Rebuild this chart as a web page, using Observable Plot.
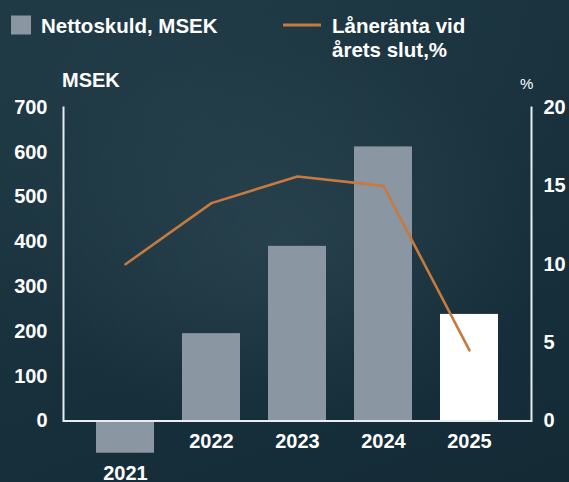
<!DOCTYPE html>
<html><head><meta charset="utf-8">
<script src="https://cdn.jsdelivr.net/npm/d3@7"></script>
<script src="https://cdn.jsdelivr.net/npm/@observablehq/plot@0.6"></script>
<style>
html,body{margin:0;padding:0;}
body{width:569px;height:482px;overflow:hidden;background:#172f3b;}
#chart{width:569px;height:482px;
 background:
  radial-gradient(ellipse 45% 40% at 50% 50%, rgba(52,78,90,0.45) 0%, rgba(52,78,90,0) 100%),
  radial-gradient(ellipse 70% 60% at 30% 20%, rgba(40,66,78,0.5) 0%, rgba(40,66,78,0) 100%),
  linear-gradient(160deg, #1c3642 0%, #18313d 50%, #142b36 100%);}
svg text{font-family:"Liberation Sans", Arial, Helvetica, sans-serif;}
</style></head><body><div id="chart"></div>
<script>
const years = ["2021", "2022", "2023", "2024", "2025"];
const nettoskuld = [-72, 195, 390, 612, 238];
const laneranta = [10.0, 13.9, 15.6, 15.0, 4.5];
const leftTicks = [0, 100, 200, 300, 400, 500, 600, 700];
const rightTicks = [0, 5, 10, 15, 20];
const legendBar = "Nettoskuld, MSEK";
const legendLine = ["Låneränta vid", "årets slut,%"];
const leftUnit = "MSEK";
const rightUnit = "%";

const ratio = 700 / 20;
const data = years.map((y, i) => ({year: y, debt: nettoskuld[i], rate: laneranta[i]}));

const gray = "#8b96a3";
const orange = "#c67a3f";
const font = 20;

const plot = Plot.plot({
  width: 569,
  height: 482,
  marginLeft: 63,
  marginRight: 38,
  marginTop: 107,
  marginBottom: 61.5,
  style: {background: "transparent", color: "white", fontFamily: "Liberation Sans, Arial, sans-serif", overflow: "visible"},
  x: {domain: years, paddingInner: 0.33, paddingOuter: 0.38, axis: null},
  y: {domain: [0, 700], axis: null},
  marks: [
    Plot.barY(data, {x: "year", y: "debt", fill: d => d.year === "2025" ? "#ffffff" : gray}),
    Plot.line(data, {x: "year", y: d => d.rate * ratio, stroke: orange, strokeWidth: 2.6}),
    Plot.ruleY([0], {stroke: "#e9edf0", strokeWidth: 2}),
    Plot.frame({anchor: "left", stroke: "#e9edf0", strokeWidth: 2}),
    Plot.frame({anchor: "right", stroke: "#e9edf0", strokeWidth: 2}),
    Plot.axisY(leftTicks, {anchor: "left", label: null, tickSize: 0, tickPadding: 16, fontSize: font, fontWeight: "bold", fill: "white"}),
    Plot.axisY(rightTicks.map(t => t * ratio), {anchor: "right", label: null, tickSize: 0, tickPadding: 12, tickFormat: d => d / ratio, fontSize: font, fontWeight: "bold", fill: "white"}),
    Plot.text(data, {x: "year", y: d => Math.min(0, d.debt), text: "year", dy: 20.5, fontSize: font, fontWeight: "bold", fill: "white"})
  ]
});

const svg = d3.select(plot);
const g = svg.append("g").attr("text-anchor", "start").attr("fill", "white");
g.append("rect").attr("x", 11).attr("y", 15.5).attr("width", 20).attr("height", 19).attr("fill", gray);
g.append("text").attr("x", 41).attr("y", 33.3).attr("font-size", 20.5).attr("font-weight", "bold").text(legendBar);
g.append("line").attr("x1", 283).attr("x2", 321).attr("y1", 25).attr("y2", 25).attr("stroke", orange).attr("stroke-width", 3);
legendLine.forEach((t, i) => {
  g.append("text").attr("x", 332).attr("y", 33.3 + i * 23.4).attr("font-size", 20.5).attr("font-weight", "bold").text(t);
});
g.append("text").attr("x", 62).attr("y", 87.3).attr("font-size", 20).attr("font-weight", "bold").text(leftUnit);
g.append("text").attr("x", 520).attr("y", 89).attr("font-size", 15).text(rightUnit);

document.getElementById("chart").appendChild(plot);
</script>
</body></html>
